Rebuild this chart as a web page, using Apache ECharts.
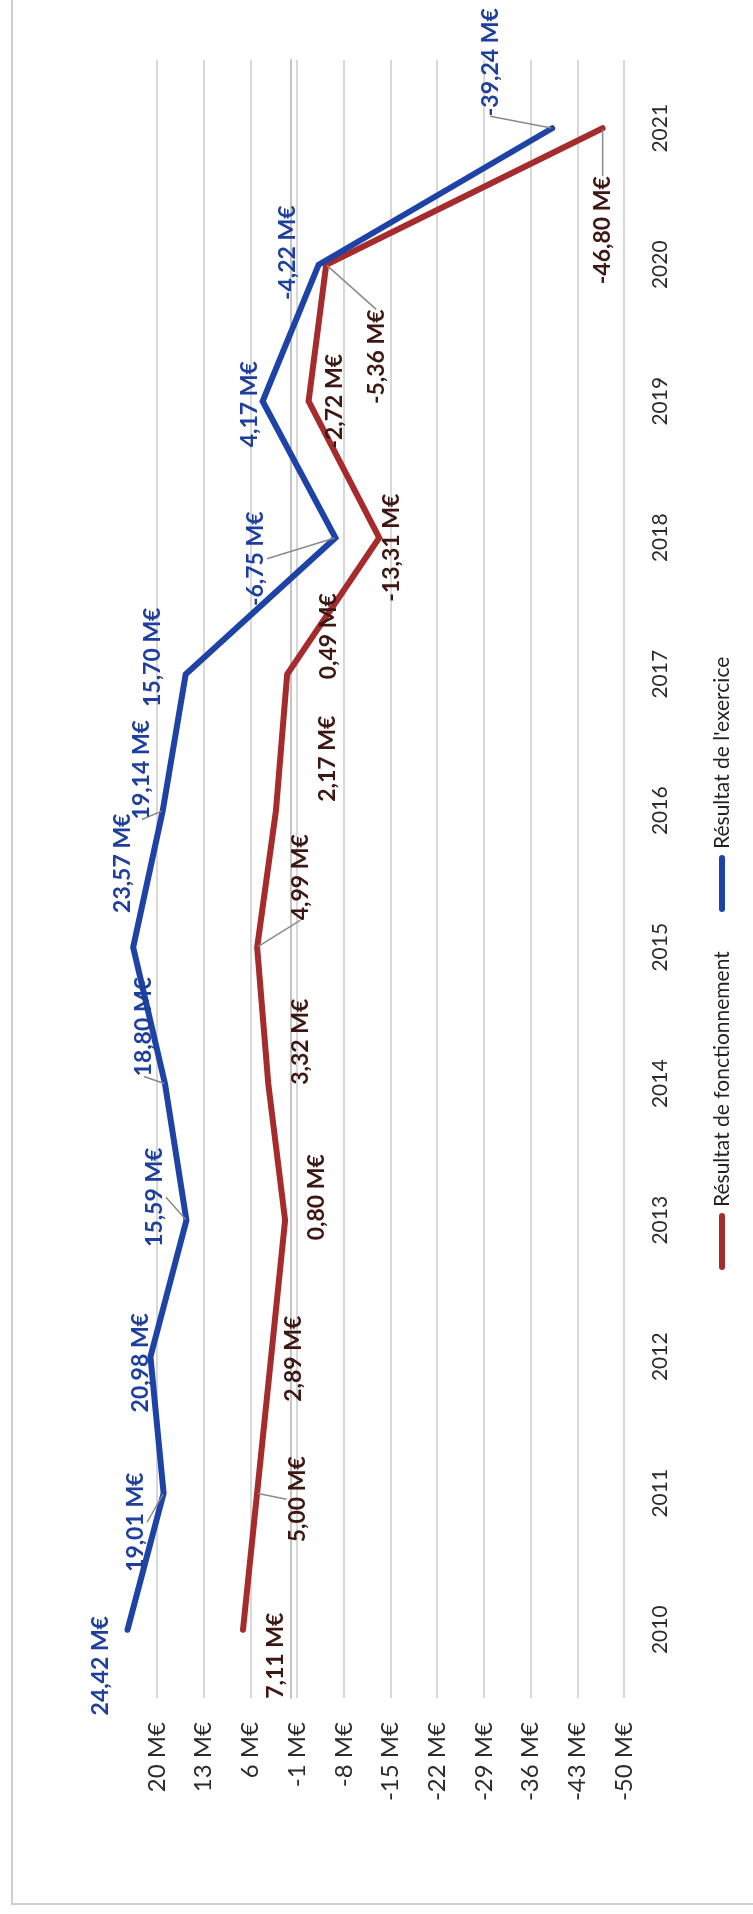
<!DOCTYPE html>
<html>
<head>
<meta charset="utf-8">
<script src="https://cdn.jsdelivr.net/npm/echarts@6/dist/echarts.min.js"></script>
<style>
  html, body { margin: 0; padding: 0; background: #fff; }
  #chart { width: 753px; height: 1914px; }
</style>
</head>
<body>
<div id="chart"></div>
<script>
// Years shown on the category axis
const years = ['2010', '2011', '2012', '2013', '2014', '2015', '2016', '2017', '2018', '2019', '2020', '2021'];

// Values in M€
const resultatFonctionnement = [7.11, 5.00, 2.89, 0.80, 3.32, 4.99, 2.17, 0.49, -13.31, -2.72, -5.36, -46.80];
const resultatExercice = [24.42, 19.01, 20.98, 15.59, 18.80, 23.57, 19.14, 15.70, -6.75, 4.17, -4.22, -39.24];

// Value axis range and step (ticks: -50, -43, ... 20)
const axisMin = -50;
const axisMax = 20;
const axisStep = 7;

// Label placement (screen pixel shifts from each point) and which labels get a leader line
const exerciceLabelShift = [[-27, 36], [-28, 29], [-10, 6], [-32, -23], [-21, -57], [-11, -84], [-21, -41], [-33, -17], [-80, 21], [-13, 3], [-31, -12], [-62, -66]];
const fonctionnementLabelShift = [[33, 26], [41, 6], [22, 2], [31, -23], [32, -42], [43, -70], [52, -52], [41, -38], [12, 10], [26, 0], [50, 92], [0, 102]];
const exerciceLeaders = [1, 3, 4, 6, 8, 11];
const fonctionnementLeaders = [1, 5, 10, 11];

const BLUE = '#1d43a6';
const RED = '#a52b2c';
const BLUE_TEXT = '#1f3f9c';
const RED_TEXT = '#3d1712';
const FONT = 'Lato, "Liberation Sans", sans-serif';

function fmt(v) {
  return v.toFixed(2).replace('.', ',') + ' M€';
}

function buildData(values, leaders) {
  return values.map(function (v, i) {
    return { value: v, labelLine: { show: leaders.indexOf(i) >= 0 } };
  });
}

function makeSeries(name, values, color, textColor, shifts, leaders) {
  return {
    name: name,
    type: 'line',
    data: buildData(values, leaders),
    clip: false,
    showSymbol: true,
    symbol: 'circle',
    symbolSize: 2,
    itemStyle: { color: color },
    lineStyle: { color: color, width: 6, cap: 'round', join: 'miter' },
    animation: false,
    label: {
      show: true,
      position: 'inside',
      rotate: 90,
      fontFamily: FONT,
      fontWeight: 'bold',
      fontSize: 23,
      color: textColor,
      formatter: function (p) { return fmt(p.value); }
    },
    labelLine: {
      show: false,
      lineStyle: { color: '#8a8a8a', width: 1.5 }
    },
    // the label is rotated, so its shift is expressed in the rotated frame
    labelLayout: function (p) {
      const s = shifts[p.dataIndex];
      return { dx: -s[1], dy: s[0] };
    }
  };
}

const chart = echarts.init(document.getElementById('chart'), null, { renderer: 'canvas' });

chart.setOption({
  backgroundColor: '#ffffff',
  animation: false,
  grid: { left: 157, right: 129, top: 60, bottom: 216, containLabel: false },
  xAxis: {
    type: 'value',
    inverse: true,
    min: axisMin,
    max: axisMax,
    interval: axisStep,
    axisLine: { show: false },
    axisTick: { show: false },
    splitLine: { show: true, lineStyle: { color: '#d8d8d8', width: 2 } },
    axisLabel: {
      rotate: 90,
      margin: 24,
      fontFamily: FONT,
      fontSize: 24,
      color: '#2b2b2b',
      formatter: function (v) { return v + ' M€'; }
    }
  },
  yAxis: {
    type: 'category',
    position: 'right',
    data: years,
    axisTick: { show: false },
    axisLine: { show: true, lineStyle: { color: '#c4c4c4', width: 2 } },
    splitLine: { show: false },
    axisLabel: {
      rotate: 90,
      margin: 26,
      fontFamily: FONT,
      fontSize: 21,
      color: '#2b2b2b'
    }
  },
  series: [
    makeSeries('Résultat de fonctionnement', resultatFonctionnement, RED, RED_TEXT, fonctionnementLabelShift, fonctionnementLeaders),
    makeSeries("Résultat de l'exercice", resultatExercice, BLUE, BLUE_TEXT, exerciceLabelShift, exerciceLeaders)
  ],
  graphic: [
    // outer frame (left and bottom edges)
    { type: 'polyline', shape: { points: [[12, 0], [12, 1904], [753, 1904]] }, style: { stroke: '#cfcfcf', lineWidth: 2, fill: null }, silent: true },
    // legend: Résultat de fonctionnement
    { type: 'rect', shape: { x: 719, y: 1213, width: 6, height: 57, r: 3 }, style: { fill: RED }, silent: true },
    { type: 'text', x: 722, y: 1207, rotation: Math.PI / 2, style: { text: 'Résultat de fonctionnement', fontFamily: FONT, fontSize: 21, fill: '#222', align: 'left', verticalAlign: 'middle' }, silent: true },
    // legend: Résultat de l'exercice
    { type: 'rect', shape: { x: 719, y: 855, width: 6, height: 57, r: 3 }, style: { fill: BLUE }, silent: true },
    { type: 'text', x: 722, y: 849, rotation: Math.PI / 2, style: { text: "Résultat de l'exercice", fontFamily: FONT, fontSize: 21, fill: '#222', align: 'left', verticalAlign: 'middle' }, silent: true }
  ]
});
</script>
</body>
</html>
